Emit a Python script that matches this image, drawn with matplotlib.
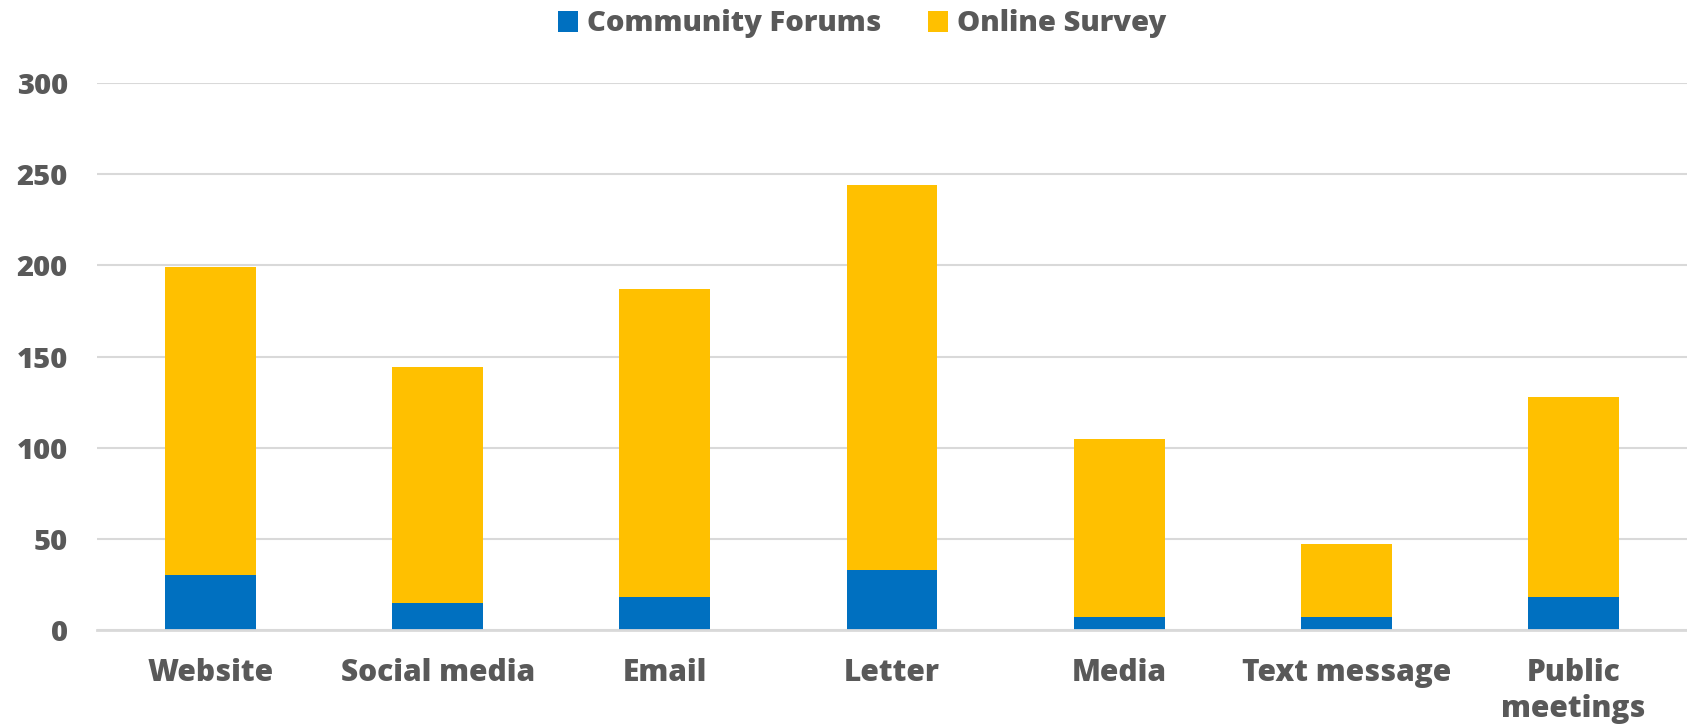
import matplotlib
matplotlib.use("Agg")
import matplotlib.pyplot as plt
import numpy as np

categories = ["Website", "Social media", "Email", "Letter", "Media", "Text message", "Public\nmeetings"]
community_forums = [30, 15, 18, 33, 7, 7, 18]
online_survey = [169, 129, 169, 211, 98, 40, 110]
y_ticks = [0, 50, 100, 150, 200, 250, 300]

BLUE = "#0070C0"
YELLOW = "#FFC000"
TEXT = "#595959"
GRID = "#D9D9D9"

FAM = ['Open Sans', 'DejaVu Sans']
plt.rcParams['font.family'] = FAM
plt.rcParams['font.weight'] = 'heavy'

fig = plt.figure(figsize=(16.87, 7.24), dpi=100)
ax = fig.add_axes([97/1687, 94/724, 1590/1687, 547/724])

x = np.arange(len(categories))
w = 0.4
b1 = ax.bar(x, community_forums, w, color=BLUE, label="Community Forums", zorder=3)
b2 = ax.bar(x, online_survey, w, bottom=community_forums, color=YELLOW, label="Online Survey", zorder=3)

ax.set_xlim(-0.5, len(categories) - 0.5)
ax.set_ylim(0, 300)
ax.set_yticks(y_ticks)
ax.set_xticks(x)
ax.set_xticklabels(categories, fontsize=21.5, fontweight='heavy', color=TEXT, linespacing=1.25)
ax.set_yticklabels([str(t) for t in y_ticks], fontsize=21, fontweight='heavy', color=TEXT)
ax.tick_params(axis='both', length=0)
ax.tick_params(axis='y', pad=21)
ax.tick_params(axis='x', pad=20)

ax.yaxis.grid(True, color=GRID, linewidth=1.5, zorder=0)
for s in ["top", "right", "left"]:
    ax.spines[s].set_visible(False)
ax.spines["bottom"].set_color(GRID)
ax.spines["bottom"].set_linewidth(2)
ax.spines["bottom"].set_zorder(4)

leg = fig.legend(handles=[b1, b2], loc="center", bbox_to_anchor=(0.511, 1 - 24/724), ncol=2,
                 frameon=False, prop={'size': 21, 'weight': 'heavy'}, handlelength=0.7, handleheight=0.7,
                 handletextpad=0.3, columnspacing=1.6)
for t in leg.get_texts():
    t.set_color(TEXT)

fig.savefig("out.png", dpi=100, facecolor="white")
